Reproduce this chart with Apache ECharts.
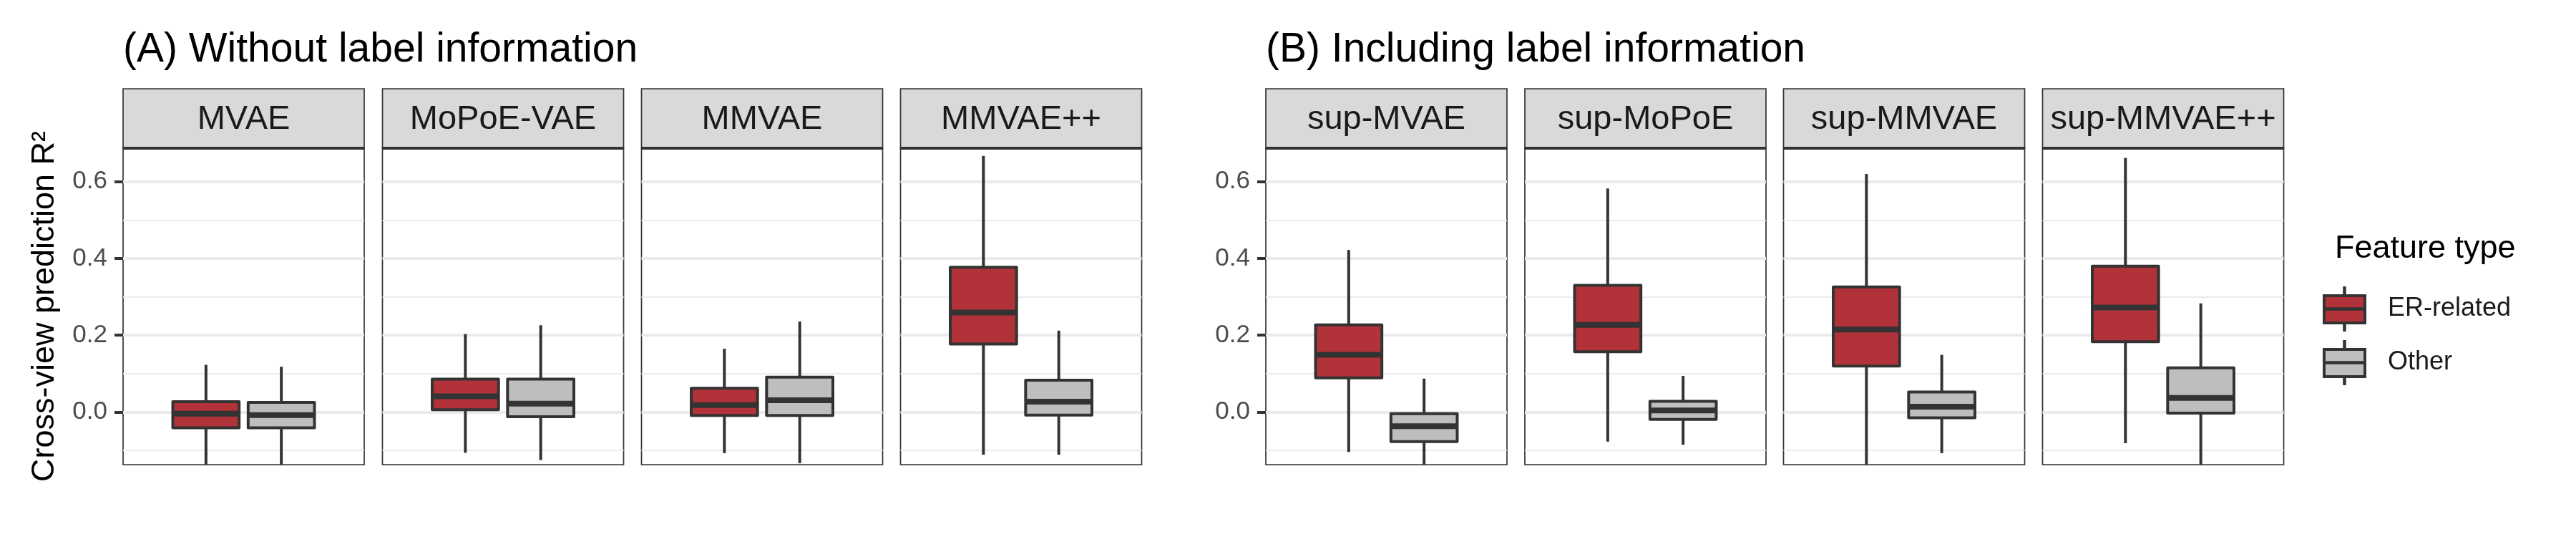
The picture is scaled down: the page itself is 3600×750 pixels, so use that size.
<!DOCTYPE html>
<html>
<head>
<meta charset="utf-8">
<script src="https://cdn.jsdelivr.net/npm/echarts@6/dist/echarts.min.js"></script>
<style>
html,body{margin:0;padding:0;background:#fff;}
#chart{width:3600px;height:750px;}
</style>
</head>
<body>
<div id="chart"></div>
<script>
// ---- data ----
const panelNames = ['MVAE', 'MoPoE-VAE', 'MMVAE', 'MMVAE++', 'sup-MVAE', 'sup-MoPoE', 'sup-MMVAE', 'sup-MMVAE++'];
const groupTitles = ['(A) Without label information', '(B) Including label information'];
const featureTypes = ['ER-related', 'Other'];
// [lower whisker, Q1, median, Q3, upper whisker]
const erRelated = [
  [-0.16, -0.041, -0.004, 0.027, 0.123],
  [-0.106, 0.006, 0.041, 0.086, 0.203],
  [-0.107, -0.009, 0.018, 0.062, 0.165],
  [-0.111, 0.177, 0.259, 0.377, 0.667],
  [-0.104, 0.089, 0.149, 0.227, 0.422],
  [-0.077, 0.157, 0.227, 0.330, 0.582],
  [-0.16, 0.120, 0.215, 0.326, 0.620],
  [-0.081, 0.183, 0.272, 0.380, 0.662]
];
const other = [
  [-0.16, -0.041, -0.008, 0.025, 0.118],
  [-0.125, -0.012, 0.022, 0.086, 0.226],
  [-0.133, -0.009, 0.031, 0.091, 0.236],
  [-0.111, -0.008, 0.027, 0.083, 0.212],
  [-0.16, -0.077, -0.037, -0.004, 0.087],
  [-0.085, -0.019, 0.004, 0.028, 0.094],
  [-0.107, -0.015, 0.014, 0.052, 0.149],
  [-0.16, -0.003, 0.037, 0.115, 0.283]
];
const yTickValues = [0, 0.2, 0.4, 0.6];
const yMinorValues = [-0.1, 0.1, 0.3, 0.5];
const yTitle = 'Cross-view prediction R\u00B2';
const legendTitle = 'Feature type';

// ---- layout / style ----
const FONT = '"Liberation Sans", Arial, Helvetica, sans-serif';
const colors = ['#B2323A', '#BEBEBE'];
const dark = '#333333';
const panelLefts = [172, 534.5, 896.5, 1258.5, 1769, 2131, 2492.5, 2854.5];
const panelW = 337;
const panelTop = 207, panelBottom = 649;
const stripTop = 124;
const yMin = -0.137, yMax = 0.687;
const dodge = 0.1875, boxW = 0.33;

const grids = [], xAxes = [], yAxes = [], series = [], graphics = [];

function renderBox(params, api) {
  const x = api.value(0);
  const cx = api.coord([x, 0])[0];
  const lo = api.coord([x, api.value(1)])[1];
  const q1 = api.coord([x, api.value(2)])[1];
  const md = api.coord([x, api.value(3)])[1];
  const q3 = api.coord([x, api.value(4)])[1];
  const hi = api.coord([x, api.value(5)])[1];
  const hw = api.size([boxW, 0])[0] / 2;
  const fill = api.visual('color');
  return {
    type: 'group',
    children: [
      {type: 'line', shape: {x1: cx, y1: lo, x2: cx, y2: q1}, style: {stroke: dark, lineWidth: 4}},
      {type: 'line', shape: {x1: cx, y1: q3, x2: cx, y2: hi}, style: {stroke: dark, lineWidth: 4}},
      {type: 'rect', shape: {x: cx - hw, y: q3, width: 2 * hw, height: q1 - q3},
        style: {fill: fill, stroke: dark, lineWidth: 4, lineJoin: 'round'}},
      {type: 'line', shape: {x1: cx - hw, y1: md, x2: cx + hw, y2: md}, style: {stroke: dark, lineWidth: 8}}
    ]
  };
}

panelNames.forEach(function (name, i) {
  const isLeft = (i === 0 || i === 4);
  grids.push({left: panelLefts[i], width: panelW, top: panelTop, height: panelBottom - panelTop,
    show: true, borderColor: dark, borderWidth: 1.7, backgroundColor: '#ffffff', containLabel: false});
  xAxes.push({gridIndex: i, type: 'value', min: 0.4, max: 1.6, show: false});
  yAxes.push({
    gridIndex: i, type: 'value', min: yMin, max: yMax,
    axisLine: {show: false},
    splitLine: {show: false},
    axisTick: {show: isLeft, length: 12, customValues: yTickValues, lineStyle: {color: dark, width: 4}},
    axisLabel: {show: isLeft, customValues: yTickValues, margin: 22, fontSize: 35, color: '#4D4D4D', fontFamily: FONT,
      formatter: function (v) { return v.toFixed(1); }}
  });
  const sets = [erRelated, other];
  featureTypes.forEach(function (ft, k) {
    const s = sets[k][i];
    const xPos = 1 + (k === 0 ? -dodge : dodge);
    const ser = {
      type: 'custom', name: ft, xAxisIndex: i, yAxisIndex: i, clip: true, z: 3,
      itemStyle: {color: colors[k]},
      encode: {x: 0, y: [1, 2, 3, 4, 5]},
      renderItem: renderBox,
      data: [[xPos, s[0], s[1], s[2], s[3], s[4]]],
      silent: true
    };
    if (k === 0) {
      ser.markLine = {
        silent: true, symbol: ['none', 'none'], label: {show: false}, animation: false, z: 1,
        data: yTickValues.map(function (v) { return {yAxis: v, lineStyle: {color: '#EBEBEB', width: 4, type: 'solid'}}; })
          .concat(yMinorValues.map(function (v) { return {yAxis: v, lineStyle: {color: '#EBEBEB', width: 2, type: 'solid'}}; }))
      };
    }
    series.push(ser);
  });
  // strip
  graphics.push({type: 'rect', z: 10, shape: {x: panelLefts[i], y: stripTop, width: panelW, height: panelTop - stripTop},
    style: {fill: '#D9D9D9', stroke: dark, lineWidth: 1.7}});
  graphics.push({type: 'line', z: 11, shape: {x1: panelLefts[i], y1: panelTop, x2: panelLefts[i] + panelW, y2: panelTop},
    style: {stroke: dark, lineWidth: 4}});
  graphics.push({type: 'text', z: 12, x: panelLefts[i] + panelW / 2, y: (stripTop + panelTop) / 2 + 2,
    style: {text: name, fill: '#1A1A1A', font: '47px ' + FONT, textAlign: 'center', textVerticalAlign: 'middle'}});
});

// group titles
graphics.push({type: 'text', x: panelLefts[0], y: 70,
  style: {text: groupTitles[0], fill: '#000', font: '57px ' + FONT, textAlign: 'left', textVerticalAlign: 'middle'}});
graphics.push({type: 'text', x: panelLefts[4], y: 70,
  style: {text: groupTitles[1], fill: '#000', font: '57px ' + FONT, textAlign: 'left', textVerticalAlign: 'middle'}});
// y axis title
graphics.push({type: 'text', x: 63, y: (panelTop + panelBottom) / 2, rotation: Math.PI / 2,
  style: {text: yTitle, fill: '#000', font: '45px ' + FONT, textAlign: 'center', textVerticalAlign: 'middle'}});
// legend title
graphics.push({type: 'text', x: 3263, y: 348,
  style: {text: legendTitle, fill: '#000', font: '45px ' + FONT, textAlign: 'left', textVerticalAlign: 'middle'}});

const legendIcon = 'path://M0,11 L57,11 L57,49 L0,49 Z M28.25,0 L28.75,0 L28.75,11 L28.25,11 Z M28.25,49 L28.75,49 L28.75,59 L28.25,59 Z M0,29.25 L57,29.25 L57,29.75 L0,29.75 Z';

const option = {
  animation: false,
  backgroundColor: '#ffffff',
  grid: grids,
  xAxis: xAxes,
  yAxis: yAxes,
  series: series,
  graphic: graphics,
  legend: {
    data: featureTypes,
    orient: 'vertical',
    left: 3241, top: 395,
    itemWidth: 111, itemHeight: 59, itemGap: 12,
    icon: legendIcon,
    itemStyle: {borderColor: dark, borderWidth: 4},
    textStyle: {fontSize: 36, color: '#1A1A1A', fontFamily: FONT},
    selectedMode: false
  }
};

const chart = echarts.init(document.getElementById('chart'), null, {renderer: 'canvas'});
chart.setOption(option);
</script>
</body>
</html>
